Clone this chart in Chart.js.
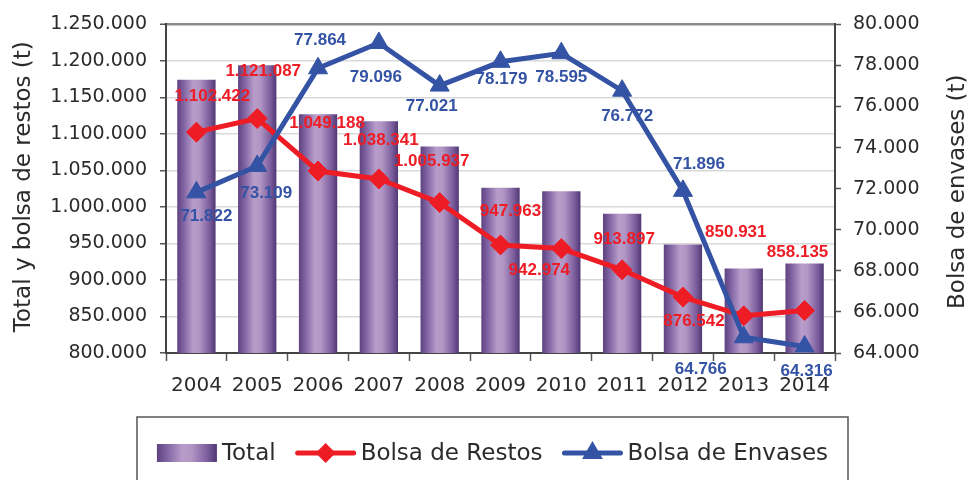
<!DOCTYPE html>
<html><head><meta charset="utf-8">
<script src="https://cdn.jsdelivr.net/npm/chart.js@4.4.1/dist/chart.umd.min.js"></script>
<style>html,body{margin:0;padding:0;background:#fff;}</style>
</head><body>
<canvas id="c" width="973" height="480"></canvas>
<script>
// ---- data ----
const years = ['2004','2005','2006','2007','2008','2009','2010','2011','2012','2013','2014'];
const total = [1174244, 1194196, 1127052, 1117437, 1082958, 1026142, 1021569, 990669, 948438, 915697, 922451];
const bolsaRestos = [1102422, 1121087, 1049188, 1038341, 1005937, 947963, 942974, 913897, 876542, 850931, 858135];
const bolsaEnvases = [71822, 73109, 77864, 79096, 77021, 78179, 78595, 76772, 71896, 64766, 64316];
const leftAxis = [800000, 1250000, 50000];
const rightAxis = [64000, 80000, 2000];

// ---- style (label placement offsets, px) ----
const restosLabelOffsets = [[16,-36],[6,-47],[9,-48],[2,-39],[-8,-41],[10,-34],[-22,22],[2,-31],[11,24],[-8,-83],[-7,-58]];
const envasesLabelOffsets = [[10,24],[9,27],[2,-28],[-3,34],[-8,21],[1,18],[0,24],[5,26],[16,-27],[-43,32],[2,25]];

const RED = '#ee1d25', BLUE = '#3453a5', TXT = '#2b2b2b';
const FONT = 'DejaVu Sans';
const BAR_PCT = 0.63;
const fmt = v => Math.round(v).toString().replace(/\B(?=(\d{3})+(?!\d))/g, '.');

function addBarStops(g) {
  g.addColorStop(0, '#5e437f');
  g.addColorStop(0.15, '#7c5f9f');
  g.addColorStop(0.42, '#b89dca');
  g.addColorStop(0.58, '#b195c4');
  g.addColorStop(0.85, '#7a5c9c');
  g.addColorStop(1, '#503772');
  return g;
}
function barGradient(c) {
  const chart = c.chart, xs = chart.scales && chart.scales.x;
  if (!xs || !chart.chartArea || c.dataIndex === undefined) return '#8c6fad';
  const cx = xs.getPixelForValue(c.dataIndex);
  const w = xs.width / years.length * BAR_PCT;
  return addBarStops(chart.ctx.createLinearGradient(cx - w/2, 0, cx + w/2, 0));
}

const labelsPlugin = {
  id: 'valueLabels',
  afterDatasetsDraw(chart) {
    const ctx = chart.ctx;
    ctx.save();
    ctx.font = 'bold 17px "Liberation Sans", Arial, sans-serif';
    ctx.textAlign = 'center'; ctx.textBaseline = 'middle';
    const sets = [[1, restosLabelOffsets, RED, bolsaRestos], [0, envasesLabelOffsets, BLUE, bolsaEnvases]];
    sets.forEach(([di, offs, col, vals]) => {
      const meta = chart.getDatasetMeta(di);
      ctx.fillStyle = col;
      meta.data.forEach((pt, i) => {
        ctx.fillText(fmt(vals[i]), pt.x + offs[i][0], pt.y + offs[i][1]);
      });
    });
    ctx.restore();
  }
};

const titlesPlugin = {
  id: 'axisTitles',
  afterDraw(chart) {
    const ctx = chart.ctx, ca = chart.chartArea;
    const cy = (ca.top + ca.bottom) / 2;
    ctx.save();
    ctx.font = '23px "' + FONT + '"';
    ctx.fillStyle = TXT; ctx.textAlign = 'center'; ctx.textBaseline = 'middle';
    ctx.translate(24, cy - 2); ctx.rotate(-Math.PI/2);
    ctx.fillText('Total y bolsa de restos (t)', 0, 0);
    ctx.restore();
    ctx.save();
    ctx.font = '23px "' + FONT + '"';
    ctx.fillStyle = TXT; ctx.textAlign = 'center'; ctx.textBaseline = 'middle';
    ctx.translate(958, cy + 3); ctx.rotate(-Math.PI/2);
    ctx.fillText('Bolsa de envases (t)', 0, 0);
    ctx.restore();
  }
};

function drawMarker(ctx, type, x, y, r, col) {
  ctx.fillStyle = col;
  ctx.beginPath();
  if (type === 'diamond') {
    ctx.moveTo(x, y - r); ctx.lineTo(x + r, y); ctx.lineTo(x, y + r); ctx.lineTo(x - r, y);
  } else {
    ctx.moveTo(x, y - r); ctx.lineTo(x + r*0.866, y + r/2); ctx.lineTo(x - r*0.866, y + r/2);
  }
  ctx.closePath(); ctx.fill();
}

const legendPlugin = {
  id: 'boxLegend',
  afterDraw(chart) {
    const ctx = chart.ctx;
    const boxL = 137, boxR = 848, boxT = 417, cy = 453;
    ctx.save();
    ctx.strokeStyle = '#555'; ctx.lineWidth = 1.5;
    ctx.beginPath();
    ctx.moveTo(boxL, 490); ctx.lineTo(boxL, boxT); ctx.lineTo(boxR, boxT); ctx.lineTo(boxR, 490);
    ctx.stroke();
    ctx.font = '23px "' + FONT + '"';
    const items = [
      {t: 'Total', kind: 'bar'},
      {t: 'Bolsa de Restos', kind: 'diamond', col: RED},
      {t: 'Bolsa de Envases', kind: 'triangle', col: BLUE}
    ];
    const sw = 60, gap = 5, sep = 20;
    let totalW = 0;
    items.forEach((it, i) => { it.w = ctx.measureText(it.t).width; totalW += sw + gap + it.w + (i ? sep : 0); });
    let x = (boxL + boxR) / 2 - totalW / 2;
    ctx.textBaseline = 'middle'; ctx.textAlign = 'left';
    items.forEach((it, i) => {
      if (i) x += sep;
      if (it.kind === 'bar') {
        ctx.fillStyle = addBarStops(ctx.createLinearGradient(x, 0, x + sw, 0));
        ctx.fillRect(x, cy - 9, sw, 18);
      } else {
        ctx.strokeStyle = it.col; ctx.lineWidth = 5; ctx.lineCap = 'round';
        ctx.beginPath(); ctx.moveTo(x + 2, cy); ctx.lineTo(x + sw - 2, cy); ctx.stroke();
        drawMarker(ctx, it.kind, x + sw/2, cy, it.kind === 'diamond' ? 10 : 12, it.col);
      }
      x += sw + gap;
      ctx.fillStyle = TXT;
      ctx.fillText(it.t, x, cy + 1);
      x += it.w;
    });
    ctx.restore();
  }
};

const tickFont = {family: FONT, size: 19};

new Chart(document.getElementById('c'), {
  data: {
    labels: years,
    datasets: [
      {type: 'line', label: 'Bolsa de Envases', data: bolsaEnvases, yAxisID: 'y1',
       borderColor: BLUE, backgroundColor: BLUE, borderWidth: 5, pointStyle: 'triangle',
       pointRadius: 11, pointBorderWidth: 1, tension: 0, order: 1},
      {type: 'line', label: 'Bolsa de Restos', data: bolsaRestos, yAxisID: 'y',
       borderColor: RED, backgroundColor: RED, borderWidth: 5, pointStyle: 'rectRot',
       pointRadius: 10, pointBorderWidth: 1, tension: 0, order: 2},
      {type: 'bar', label: 'Total', data: total, yAxisID: 'y',
       backgroundColor: barGradient, borderWidth: 0, barPercentage: BAR_PCT, categoryPercentage: 1, order: 3}
    ]
  },
  options: {
    responsive: false, animation: false, devicePixelRatio: 1,
    layout: {padding: {top: 24, left: 0, right: 0, bottom: 77}},
    plugins: {legend: {display: false}, tooltip: {enabled: false}},
    scales: {
      x: {
        grid: {drawOnChartArea: false, tickLength: 8, tickColor: '#555', tickWidth: 1.5, offset: true},
        border: {color: '#444', width: 2},
        ticks: {font: {family: FONT, size: 20}, color: TXT, padding: 13, maxRotation: 0},
        afterFit: s => { s.height = 50; }
      },
      y: {
        position: 'left', min: leftAxis[0], max: leftAxis[1],
        ticks: {stepSize: leftAxis[2], callback: v => fmt(v), font: tickFont, color: TXT, padding: 13},
        grid: {color: c => (c.tick && c.tick.value === leftAxis[1]) ? '#8c8c8c' : '#d9d9d9',
               lineWidth: c => (c.tick && c.tick.value === leftAxis[1]) ? 2.5 : 1.5,
               tickColor: '#555', tickLength: 6, tickWidth: 1.5},
        border: {color: '#444', width: 2},
        afterFit: s => { s.width = 166; }
      },
      y1: {
        position: 'right', min: rightAxis[0], max: rightAxis[1],
        ticks: {stepSize: rightAxis[2], callback: v => fmt(v), font: tickFont, color: TXT, padding: 12},
        grid: {drawOnChartArea: false, tickColor: '#555', tickLength: 6, tickWidth: 1.5},
        border: {color: '#444', width: 2},
        afterFit: s => { s.width = 138; }
      }
    }
  },
  plugins: [labelsPlugin, titlesPlugin, legendPlugin]
});
</script>
</body></html>
